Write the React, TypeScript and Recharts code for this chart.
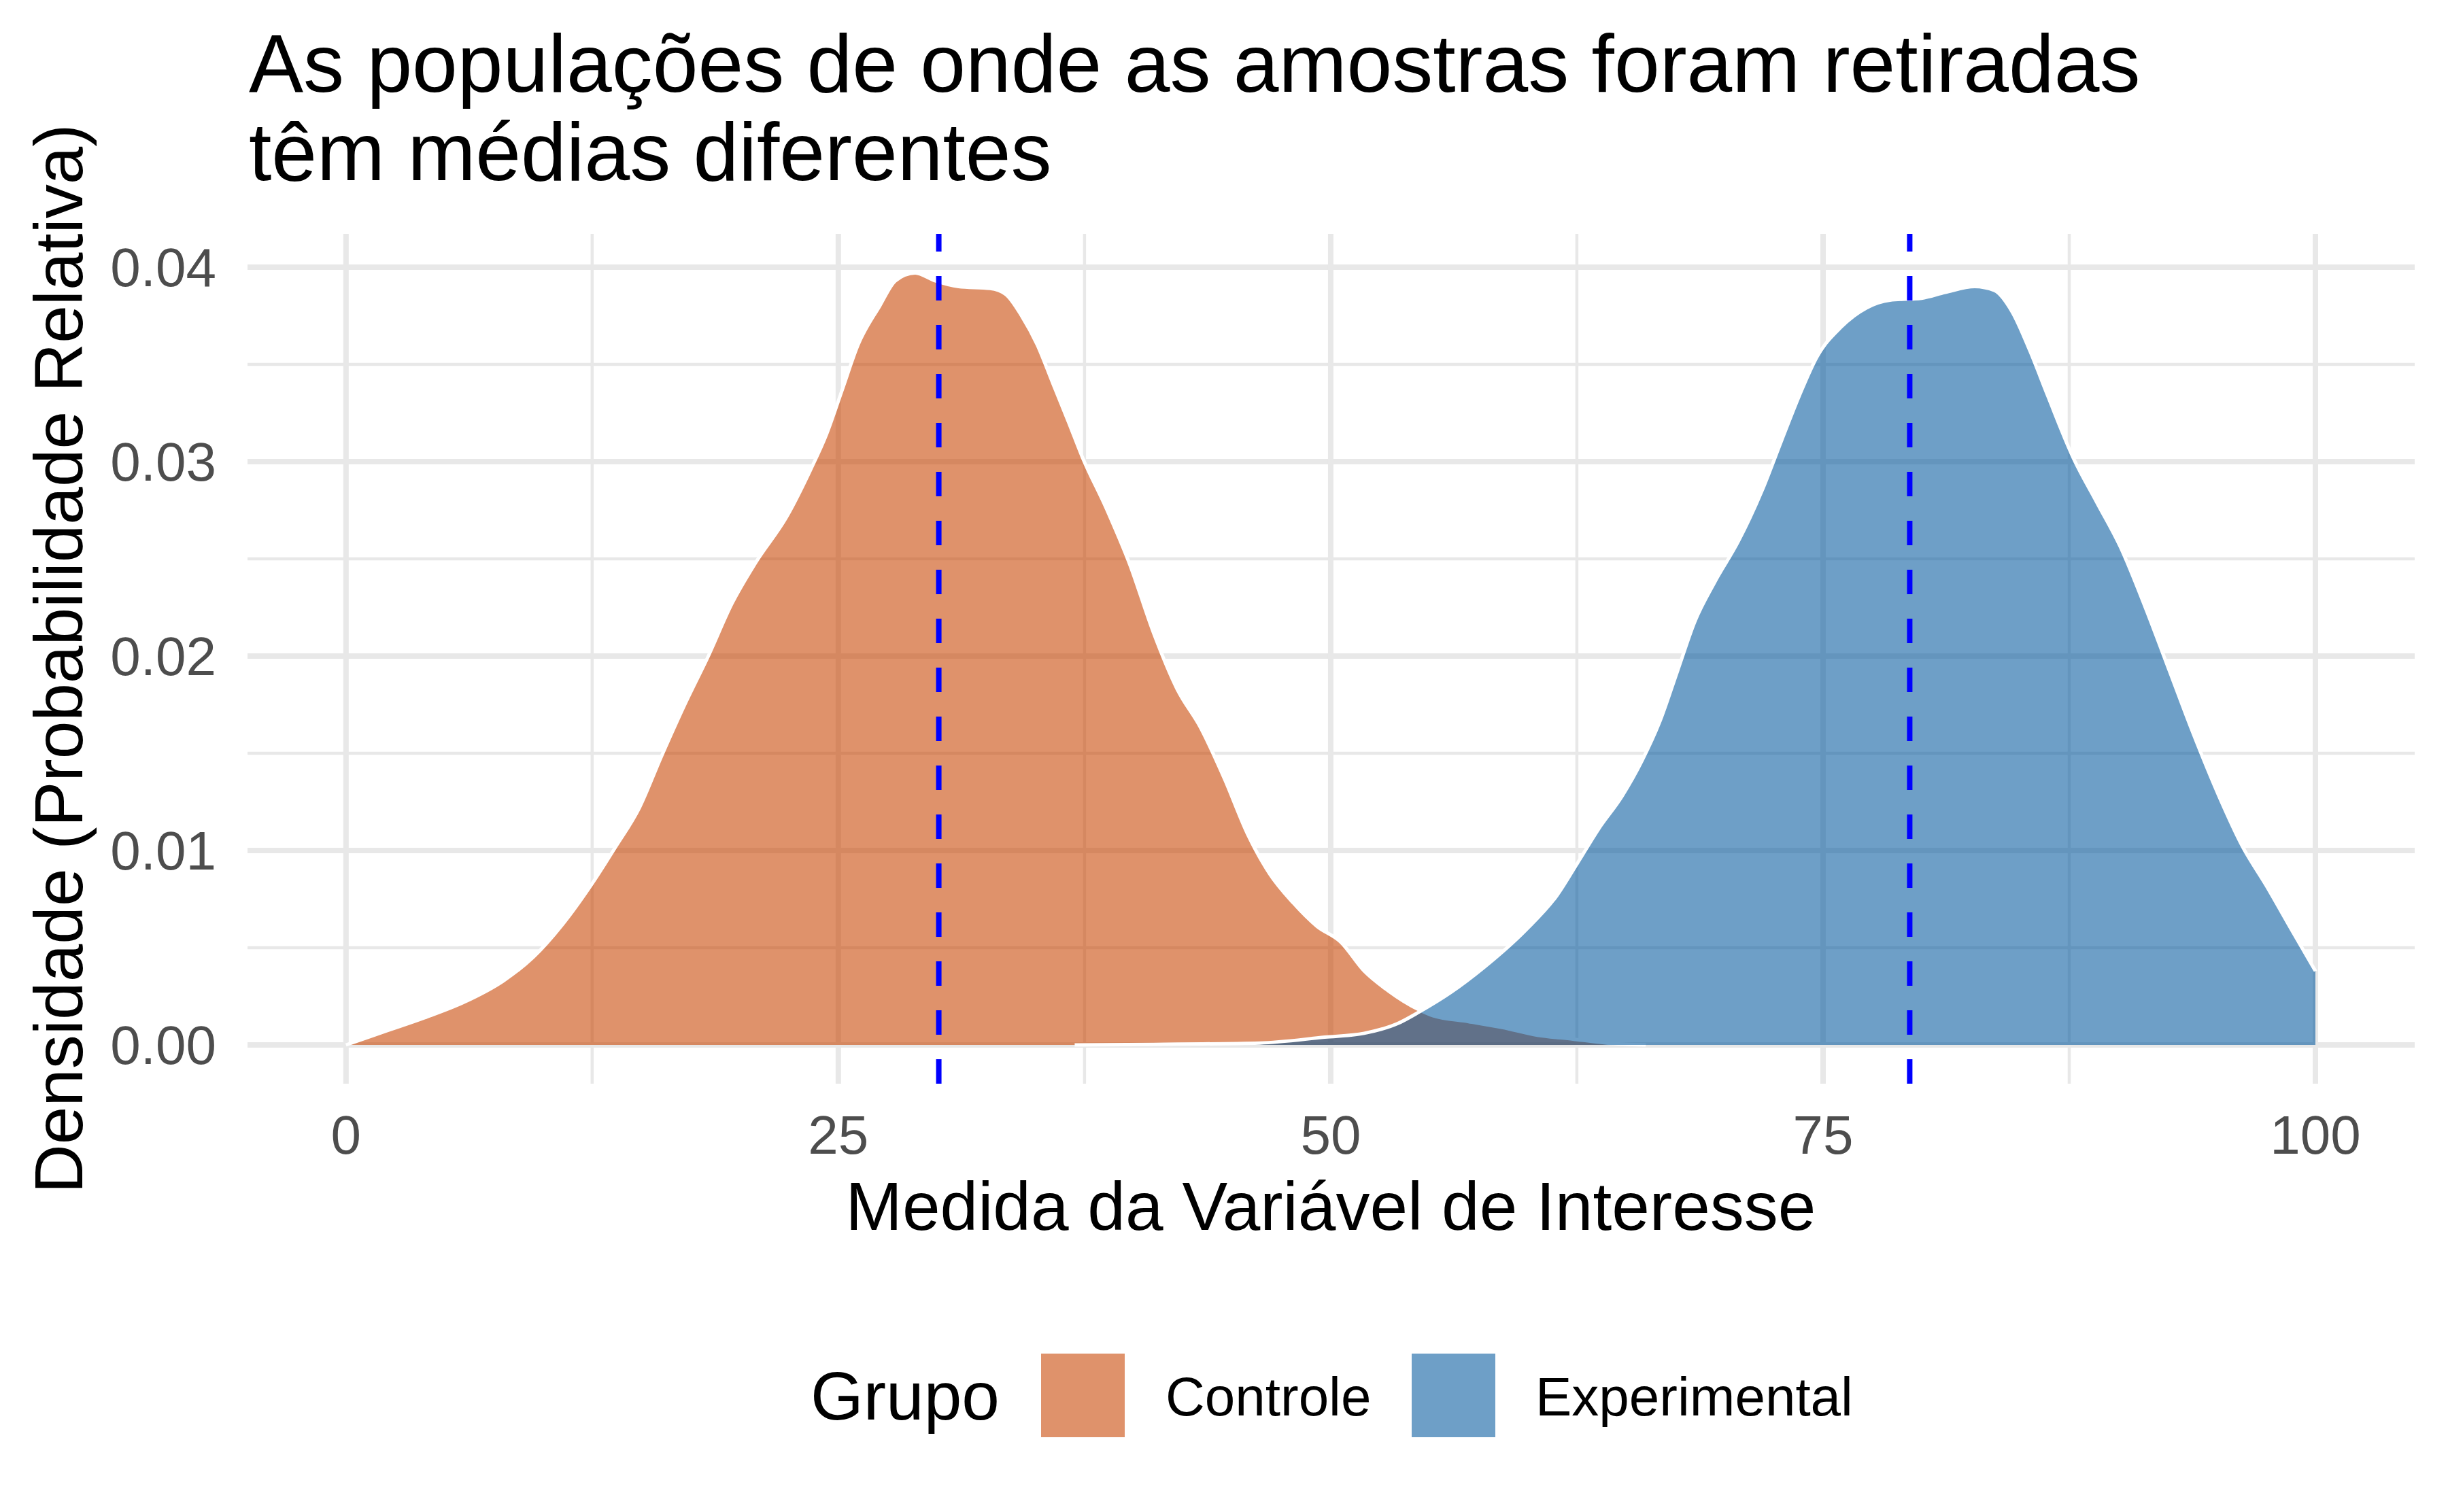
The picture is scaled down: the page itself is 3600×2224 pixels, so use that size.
import {
  ComposedChart,
  Area,
  XAxis,
  YAxis,
  CartesianGrid,
  ReferenceLine,
} from "recharts";

// densidade estimada
const controleX = [0, 2, 4, 6, 8, 9.5, 11, 12.5, 13.7, 14.9, 16, 17.2, 18.4, 19.6, 20.8, 22.4, 23.6, 24.4, 25.2, 26, 27.1, 27.9, 28.9, 29.9, 31.1, 32.7, 33.5, 34.3, 35.1, 35.9, 36.7, 37.4, 38.6, 39.8, 41, 42.2, 43.4, 44.6, 45.8, 46.9, 48.1, 49.3, 50.5, 51.7, 52.9, 54.5, 55.2, 57, 58.7, 60.5, 62.3, 64, 66];
const controleY = [0, 0.0007, 0.0014, 0.0022, 0.0033, 0.0045, 0.0062, 0.0083, 0.0102, 0.0122, 0.0148, 0.0175, 0.02, 0.0227, 0.0248, 0.0272, 0.0296, 0.0314, 0.0337, 0.036, 0.038, 0.0393, 0.0397, 0.0393, 0.039, 0.0389, 0.0386, 0.0375, 0.036, 0.034, 0.032, 0.0302, 0.0276, 0.0247, 0.0212, 0.0183, 0.0163, 0.0137, 0.0108, 0.0088, 0.0073, 0.0061, 0.0053, 0.0038, 0.0028, 0.0018, 0.0015, 0.0012, 0.0009, 0.0005, 0.0003, 0.0001, 0];

const experimentalX = [37, 41, 46.4, 49.7, 51.7, 53.4, 54.5, 56.1, 57.8, 59.9, 61.5, 62.5, 63.6, 64.8, 65.8, 66.7, 67.6, 68.5, 69.5, 70.7, 71.9, 72.9, 73.8, 74.7, 75.9, 77.2, 78.4, 80, 81.2, 82.7, 83.7, 84.6, 85.5, 86.4, 87.7, 88.9, 90.1, 91.4, 92.6, 93.8, 95.1, 96.3, 97.5, 98.8, 100];
const experimentalY = [0, 0.00003, 0.0001, 0.0004, 0.0006, 0.0011, 0.0017, 0.0027, 0.004, 0.0059, 0.0077, 0.0093, 0.0111, 0.0128, 0.0146, 0.0166, 0.0192, 0.0218, 0.0238, 0.0259, 0.0285, 0.0311, 0.0334, 0.0354, 0.0369, 0.0379, 0.0383, 0.0384, 0.0387, 0.039, 0.0388, 0.0377, 0.0357, 0.0334, 0.0302, 0.0279, 0.0256, 0.0224, 0.0192, 0.016, 0.0128, 0.0102, 0.0082, 0.0059, 0.0038];

const controleMean = 30.1;
const experimentalMean = 79.4;

const xTicks = [0, 25, 50, 75, 100];
const xMinor = [12.5, 37.5, 62.5, 87.5];
const yTicks = [0, 0.01, 0.02, 0.03, 0.04];
const yMinor = [0.005, 0.015, 0.025, 0.035];

const FONT = "'Liberation Sans', Arial, Helvetica, sans-serif";
const ORANGE = "#C84400";
const BLUE = "#055A9E";
const ALPHA = 0.58;
const GRID = "#E8E8E8";

function buildRows() {
  const rows = new Map<number, { x: number; controle?: number; experimental?: number }>();
  controleX.forEach((x, i) => {
    const r = rows.get(x) ?? { x };
    r.controle = controleY[i];
    rows.set(x, r);
  });
  experimentalX.forEach((x, i) => {
    const r = rows.get(x) ?? { x };
    r.experimental = experimentalY[i];
    rows.set(x, r);
  });
  return Array.from(rows.values()).sort((a, b) => a.x - b.x);
}

const rows = buildRows();

export default function App() {
  return (
    <div
      style={{
        position: "absolute",
        left: 0,
        top: 0,
        width: 3600,
        height: 2224,
        background: "#fff",
        fontFamily: FONT,
      }}
    >
      <ComposedChart
        width={3600}
        height={2224}
        data={rows}
        margin={{ top: 344, right: 49, bottom: 530, left: 64 }}
      >
        <CartesianGrid
          stroke={GRID}
          strokeWidth={4.5}
          fill="none"
          verticalValues={xMinor}
          horizontalValues={yMinor}
        />
        <CartesianGrid
          stroke={GRID}
          strokeWidth={8}
          fill="none"
          verticalValues={xTicks}
          horizontalValues={yTicks}
        />
        <XAxis
          type="number"
          dataKey="x"
          domain={[-5, 105.04]}
          ticks={xTicks}
          allowDataOverflow
          height={100}
          axisLine={false}
          tickLine={false}
          tickSize={0}
          tickMargin={46}
          tick={{ fontSize: 80, fill: "#4D4D4D", fontFamily: FONT }}
        />
        <YAxis
          type="number"
          domain={[-0.001993, 0.04171]}
          ticks={yTicks}
          allowDataOverflow
          width={300}
          axisLine={false}
          tickLine={false}
          tickSize={0}
          tickMargin={46}
          tickFormatter={(v: number) => v.toFixed(2)}
          tick={{ fontSize: 80, fill: "#4D4D4D", fontFamily: FONT }}
        />
        <Area
          type="monotone"
          dataKey="controle"
          baseValue={0}
          connectNulls
          fill={ORANGE}
          fillOpacity={ALPHA}
          stroke="#FFFFFF"
          strokeWidth={5}
          isAnimationActive={false}
        />
        <Area
          type="monotone"
          dataKey="experimental"
          baseValue={0}
          connectNulls
          fill={BLUE}
          fillOpacity={ALPHA}
          stroke="#FFFFFF"
          strokeWidth={5}
          isAnimationActive={false}
        />
        <ReferenceLine
          x={controleMean}
          stroke="#0000FF"
          strokeWidth={8}
          strokeDasharray="36 36"
        />
        <ReferenceLine
          x={experimentalMean}
          stroke="#0000FF"
          strokeWidth={8}
          strokeDasharray="36 36"
        />
      </ComposedChart>

      <svg
        width={3600}
        height={2224}
        style={{ position: "absolute", left: 0, top: 0, pointerEvents: "none" }}
        fontFamily={FONT}
      >
        <text x={366} y={135} fontSize={120} fill="#000">
          As populações de onde as amostras foram retiradas
        </text>
        <text x={366} y={265} fontSize={120} fill="#000">
          têm médias diferentes
        </text>
        <text
          x={121}
          y={969}
          fontSize={100}
          fill="#000"
          textAnchor="middle"
          transform="rotate(-90 121 969)"
        >
          Densidade (Probabilidade Relativa)
        </text>
        <text x={1957} y={1809} fontSize={100} fill="#000" textAnchor="middle">
          Medida da Variável de Interesse
        </text>

        <text x={1192} y={2088} fontSize={100} fill="#000">
          Grupo
        </text>
        <rect x={1531} y={1991} width={123} height={123} fill={ORANGE} fillOpacity={ALPHA} />
        <text x={1714} y={2082} fontSize={80} fill="#000">
          Controle
        </text>
        <rect x={2076} y={1991} width={123} height={123} fill={BLUE} fillOpacity={ALPHA} />
        <text x={2258} y={2082} fontSize={80} fill="#000">
          Experimental
        </text>
      </svg>
    </div>
  );
}
